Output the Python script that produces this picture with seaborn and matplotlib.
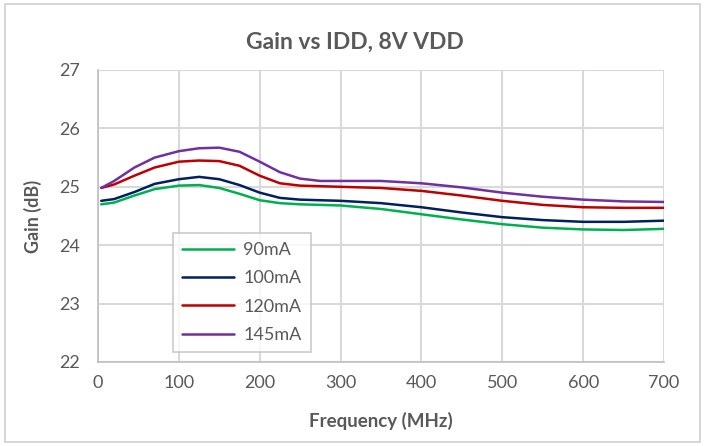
import matplotlib
matplotlib.use("Agg")
import matplotlib.pyplot as plt
import seaborn as sns
import pandas as pd
from matplotlib.patches import Rectangle

# Frequency points (MHz)
freq = [4, 20, 45, 70, 100, 125, 150, 175, 200, 225, 250, 275,
        300, 350, 400, 450, 500, 550, 600, 650, 700]

gain_90 = [24.70, 24.73, 24.85, 24.96, 25.02, 25.03, 24.98, 24.88, 24.77, 24.72, 24.70, 24.69,
           24.68, 24.62, 24.53, 24.44, 24.36, 24.30, 24.27, 24.26, 24.28]
gain_100 = [24.76, 24.79, 24.91, 25.05, 25.13, 25.17, 25.13, 25.03, 24.90, 24.81, 24.78, 24.77,
            24.76, 24.72, 24.65, 24.56, 24.48, 24.43, 24.40, 24.40, 24.42]
gain_120 = [24.98, 25.04, 25.19, 25.33, 25.43, 25.45, 25.44, 25.36, 25.19, 25.06, 25.02, 25.01,
            25.00, 24.98, 24.93, 24.85, 24.76, 24.69, 24.65, 24.64, 24.64]
gain_145 = [24.98, 25.10, 25.33, 25.50, 25.61, 25.66, 25.67, 25.60, 25.43, 25.25, 25.14, 25.10,
            25.10, 25.10, 25.06, 24.99, 24.90, 24.83, 24.78, 24.75, 24.74]

labels = ["90mA", "100mA", "120mA", "145mA"]
colors = ["#00b050", "#002060", "#c00000", "#7030a0"]

df = pd.concat([
    pd.DataFrame({"freq": freq, "gain": g, "IDD": lab})
    for g, lab in zip([gain_90, gain_100, gain_120, gain_145], labels)
])

sns.set_style("white")
plt.rcParams["font.family"] = ["Lato", "DejaVu Sans"]
text_col = "#595959"

fig = plt.figure(figsize=(7.1, 4.46), dpi=100)
ax = fig.add_axes([98 / 710, 1 - 362 / 446, 566 / 710, 292 / 446])

sns.lineplot(data=df, x="freq", y="gain", hue="IDD", palette=colors,
             hue_order=labels, linewidth=1.8, ax=ax, legend=True)
for ln in ax.get_lines():
    ln.set_solid_joinstyle("round")
    ln.set_solid_capstyle("round")

ax.set_xlim(0, 700)
ax.set_ylim(22, 27)
ax.set_xticks(range(0, 701, 100))
ax.set_yticks(range(22, 28))
ax.grid(True, color="#d9d9d9", linewidth=1.5)
ax.set_axisbelow(True)
for s in ["top", "right"]:
    ax.spines[s].set_visible(False)
for s in ["left", "bottom"]:
    ax.spines[s].set_color("#bfbfbf")
    ax.spines[s].set_linewidth(1.2)
ax.tick_params(colors=text_col, labelsize=13, length=0)
ax.tick_params(axis="y", pad=13)
ax.tick_params(axis="x", pad=9)

ax.set_xlabel("Frequency (MHz)", fontsize=13.5, fontweight="bold", color=text_col)
ax.set_ylabel("Gain (dB)", fontsize=13, fontweight="bold", color=text_col)
ax.xaxis.label.set_va("center")
ax.yaxis.label.set_va("center")
ax.xaxis.set_label_coords(0.5, (362 - 421) / 292)
ax.yaxis.set_label_coords((33 - 98) / 566, 0.5)

fig.text(0.5, 1 - 42 / 446, "Gain vs IDD, 8V VDD", ha="center", va="center",
         fontsize=16.5, fontweight="bold", color=text_col)

leg = ax.legend(loc="upper left", bbox_to_anchor=(0.1325, 0.4418), frameon=True,
                fancybox=False, edgecolor="#bfbfbf", fontsize=13,
                handlelength=2.9, labelspacing=0.68, borderpad=0.5,
                handletextpad=0.5, borderaxespad=0)
for t in leg.get_texts():
    t.set_color(text_col)
leg.get_frame().set_linewidth(1.2)

# outer chart border
fig.patches.append(Rectangle((5 / 710, 4 / 446), 695 / 710, 438 / 446,
                             transform=fig.transFigure, fill=False,
                             edgecolor="#d0d0d0", linewidth=1.2))

fig.savefig("out.png", dpi=100)
